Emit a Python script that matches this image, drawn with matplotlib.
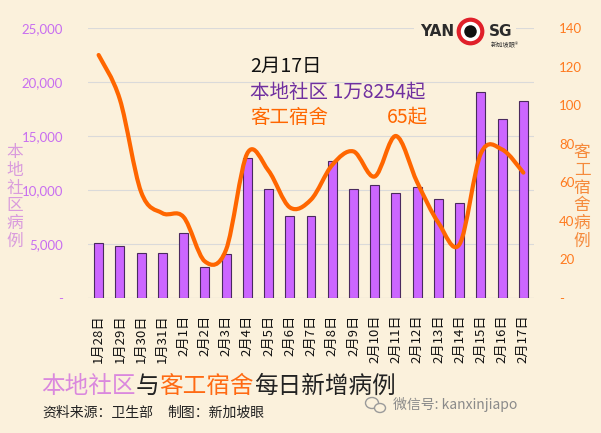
import numpy as np
import matplotlib.pyplot as plt
from matplotlib.path import Path
from matplotlib.patches import PathPatch, Ellipse, Rectangle
from matplotlib.lines import Line2D

plt.rcParams['font.family'] = ['Noto Sans CJK SC', 'DejaVu Sans']

# data
dates = ['1月28日', '1月29日', '1月30日', '1月31日', '2月1日', '2月2日', '2月3日',
         '2月4日', '2月5日', '2月6日', '2月7日', '2月8日', '2月9日', '2月10日',
         '2月11日', '2月12日', '2月13日', '2月14日', '2月15日', '2月16日', '2月17日']
community = [5100, 4800, 4150, 4150, 6050, 2870, 4050, 12950, 10100, 7560, 7560,
             12700, 10050, 10450, 9700, 10250, 9170, 8800, 19080, 16550, 18254]
dorm = [126, 103, 55, 44, 42, 19, 25, 75, 66, 47, 51, 69, 76, 63, 84, 60, 39, 28, 75, 77, 65]
left_ticks = [0, 5000, 10000, 15000, 20000, 25000]
left_labels = ['-', '5,000', '10,000', '15,000', '20,000', '25,000']
right_ticks = [0, 20, 40, 60, 80, 100, 120, 140]
right_labels = ['-', '20', '40', '60', '80', '100', '120', '140']

BG = '#FBF1DC'
BAR = '#CC66FF'
ORANGE = '#FF6600'

W, H = 601, 433
fig = plt.figure(figsize=(W / 100, H / 100), dpi=100, facecolor=BG)
ax = fig.add_axes([88 / W, 1 - 298 / H, 446 / W, 270 / H])
ax.set_facecolor('none')

x = np.arange(len(dates))
ax.bar(x, community, width=0.42, color=BAR, edgecolor='#4A2A5E', linewidth=0.8, zorder=3)
ax.set_xlim(-0.5, len(dates) - 0.5)
ax.set_ylim(0, 25000)
ax.set_yticks(left_ticks)
ax.set_yticklabels(left_labels, color='#C86EF0', fontsize=9.5, family='Lato')
ax.set_xticks(x)
ax.set_xticklabels(dates, rotation=90, fontsize=9.5, color='#111111')
ax.tick_params(axis='y', length=0, pad=18)
ax.tick_params(axis='x', length=0, pad=12)
ax.grid(axis='y', color='#DADADA', linewidth=0.8, zorder=0)
for s in ax.spines.values():
    s.set_visible(False)
ax.axhline(0, color='#D5D5D5', linewidth=0.8, zorder=1)

ax2 = ax.twinx()
ax2.set_ylim(0, 140)
ax2.set_yticks(right_ticks)
ax2.set_yticklabels(right_labels, color='#FF7A1F', fontsize=9.5, family='Lato')
ax2.tick_params(axis='y', length=0, pad=18)
for s in ax2.spines.values():
    s.set_visible(False)

# smoothed line (Catmull-Rom through the data points)
pts = np.column_stack([x, dorm]).astype(float)
n = len(pts)
verts = [pts[0]]
codes = [Path.MOVETO]
for i in range(n - 1):
    p0 = pts[max(i - 1, 0)]
    p1 = pts[i]
    p2 = pts[i + 1]
    p3 = pts[min(i + 2, n - 1)]
    verts += [p1 + (p2 - p0) / 6, p2 - (p3 - p1) / 6, p2]
    codes += [Path.CURVE4] * 3
ax2.add_patch(PathPatch(Path(verts, codes), facecolor='none', edgecolor=ORANGE,
                        linewidth=3, capstyle='round', joinstyle='round', zorder=4))

# axis titles (stacked characters)
fig.text(15 / W, 1 - 197 / H, '\n'.join('本地社区病例'), color='#D99BDD', fontsize=12,
         ha='center', va='center', linespacing=1.05)
fig.text(582 / W, 1 - 197 / H, '\n'.join('客工宿舍病例'), color='#F58A3C', fontsize=12,
         ha='center', va='center', linespacing=1.05)

# annotation
fig.text(250 / W, 1 - 66 / H, '2月17日', color='#111111', fontsize=14, va='center')
fig.text(250 / W, 1 - 92 / H, '本地社区 1万8254起', color='#7030A0', fontsize=14, va='center')
fig.text(250 / W, 1 - 117 / H, '客工宿舍', color=ORANGE, fontsize=14, va='center')
fig.text(387 / W, 1 - 117 / H, '65起', color=ORANGE, fontsize=14, va='center')

# logo
fig.add_artist(Rectangle((414 / W, 1 - 52 / H), 102 / W, 32 / H, transform=fig.transFigure,
                         facecolor=BG, edgecolor='none', zorder=5))
fig.text(437 / W, 1 - 32 / H, 'YAN', fontsize=11, fontweight='bold', color='#2B2B2B',
         family='DejaVu Sans', ha='center', va='center', zorder=6)
fig.add_artist(Line2D([470 / W], [1 - 31 / H], marker='o', markersize=17, markerfacecolor='white',
                      markeredgecolor='#E0202A', markeredgewidth=3, transform=fig.transFigure, zorder=6))
fig.add_artist(Line2D([470 / W], [1 - 31 / H], marker='o', markersize=9, markerfacecolor='#111111',
                      markeredgecolor='none', transform=fig.transFigure, zorder=7))
fig.text(501 / W, 1 - 32 / H, 'SG', fontsize=11, fontweight='bold', color='#2B2B2B',
         family='DejaVu Sans', ha='center', va='center', zorder=6)
fig.text(505 / W, 1 - 45 / H, '新加坡眼®', fontsize=4.5, color='#333333',
         ha='center', va='center', zorder=6)

# title
t1 = fig.text(41 / W, 1 - 398 / H, '本地社区', color='#DA88DE', fontsize=17, va='bottom')
t2 = ax.annotate('与', xy=(1, 0), xycoords=t1, va='bottom', color='#222222', fontsize=17,
                 annotation_clip=False)
t3 = ax.annotate('客工宿舍', xy=(1, 0), xycoords=t2, va='bottom', color='#FF6A13', fontsize=17,
                 annotation_clip=False)
ax.annotate('每日新增病例', xy=(1, 0), xycoords=t3, va='bottom', color='#222222', fontsize=17,
            annotation_clip=False)

fig.text(42 / W, 1 - 413 / H, '资料来源：卫生部', color='#222222', fontsize=10, va='center')
fig.text(167 / W, 1 - 413 / H, '制图：新加坡眼', color='#222222', fontsize=10, va='center')

# wechat mark
fig.add_artist(Ellipse((372 / W, 1 - 403 / H), 13 / W, 11 / H, transform=fig.transFigure,
                       facecolor='none', edgecolor='#9A9A9A', linewidth=1))
fig.add_artist(Ellipse((380 / W, 1 - 408 / H), 11 / W, 9 / H, transform=fig.transFigure,
                       facecolor=BG, edgecolor='#9A9A9A', linewidth=1))
fig.text(393 / W, 1 - 405 / H, '微信号: kanxinjiapo', color='#8A8A8A', fontsize=10, va='center')

fig.savefig('out.png', dpi=100, facecolor=BG)
